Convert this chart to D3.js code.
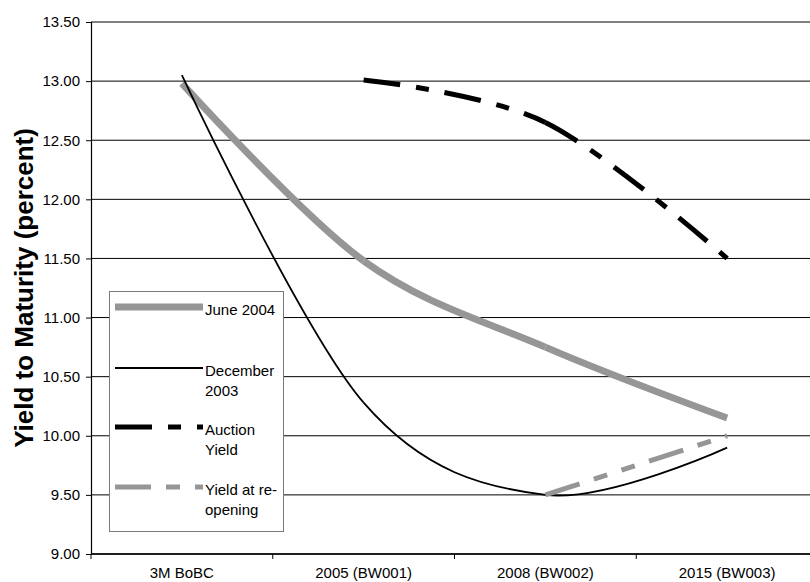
<!DOCTYPE html>
<html>
<head>
<meta charset="utf-8">
<script src="https://cdn.jsdelivr.net/npm/d3@7"></script>
<style>
  html, body { margin: 0; padding: 0; background: #fff; }
  svg { display: block; }
  text { font-family: "Liberation Sans", Arial, sans-serif; fill: #000; }
</style>
</head>
<body>
<svg id="chart" width="810" height="582"></svg>
<script>
// Bond categories along the horizontal axis
const categories = ["3M BoBC", "2005 (BW001)", "2008 (BW002)", "2015 (BW003)"];

// Yield curves (percent), one value per category; null where the series has no point
const june2004 = [12.98, 11.48, 10.75, 10.15];
const december2003 = [13.05, 10.28, 9.50, 9.90];
const auctionYield = [null, 13.01, 12.65, 11.50];
const reopeningYield = [null, null, 9.50, 10.00];

// Vertical axis ticks
const yTicks = [9.00, 9.50, 10.00, 10.50, 11.00, 11.50, 12.00, 12.50, 13.00, 13.50];

const series = [
  { name: ["June 2004"], values: june2004, color: "#969696", width: 7, dash: null },
  { name: ["December", "2003"], values: december2003, color: "#000000", width: 1.8, dash: null },
  { name: ["Auction", "Yield"], values: auctionYield, color: "#000000", width: 5, dash: "37,16,13,16" },
  { name: ["Yield at re-", "opening"], values: reopeningYield, color: "#969696", width: 5, dash: "36,15,14,15,14,15" }
];

const svg = d3.select("#chart");
const plot = { left: 91, right: 818, top: 22, bottom: 554 };

const x = d3.scaleBand().domain(categories).range([plot.left, plot.right]).paddingInner(0).paddingOuter(0);
const xc = c => x(c) + x.bandwidth() / 2;
const y = d3.scaleLinear().domain([9, 13.5]).range([plot.bottom, plot.top]);

// Horizontal gridlines
svg.append("g").selectAll("line").data(yTicks).join("line")
  .attr("x1", plot.left).attr("x2", plot.right)
  .attr("y1", d => y(d)).attr("y2", d => y(d))
  .attr("stroke", "#000").attr("stroke-width", 1);

// Y axis
const yAxis = d3.axisLeft(y).tickValues(yTicks).tickFormat(d3.format(".2f")).tickSize(5).tickPadding(6);
const gy = svg.append("g").attr("transform", `translate(${plot.left},0)`).call(yAxis);
gy.select(".domain").attr("stroke", "#000").attr("stroke-width", 1.2);
gy.selectAll(".tick line").attr("stroke", "#000");
gy.selectAll("text").style("font-size", "15px").attr("fill", "#000")
  .style("font-family", "'Liberation Sans', Arial, sans-serif");

// X axis: ticks at band boundaries, labels centred in each band
const boundaries = categories.map(c => x(c)).concat([x(categories[categories.length - 1]) + x.bandwidth()]);
const gx = svg.append("g");
gx.append("line")
  .attr("x1", plot.left).attr("x2", plot.right)
  .attr("y1", plot.bottom).attr("y2", plot.bottom)
  .attr("stroke", "#000").attr("stroke-width", 1.4);
gx.selectAll("line.tk").data(boundaries).join("line").attr("class", "tk")
  .attr("x1", d => d).attr("x2", d => d)
  .attr("y1", plot.bottom).attr("y2", plot.bottom + 5)
  .attr("stroke", "#000");
gx.selectAll("text").data(categories).join("text")
  .attr("x", d => xc(d)).attr("y", 578)
  .attr("text-anchor", "middle")
  .style("font-size", "15px")
  .text(d => d);

// Y axis title
svg.append("text")
  .attr("transform", `translate(33,${(plot.top + plot.bottom) / 2}) rotate(-90)`)
  .attr("text-anchor", "middle")
  .style("font-size", "26px").style("font-weight", "bold")
  .text("Yield to Maturity (percent)");

// Records each curve segment separately so a dash pattern restarts at every data point
function segmentRecorder() {
  const segs = [];
  let cx = 0, cy = 0;
  return {
    segs,
    beginPath() {},
    closePath() {},
    moveTo(px, py) { cx = px; cy = py; },
    lineTo(px, py) { segs.push(`M${cx},${cy}L${px},${py}`); cx = px; cy = py; },
    bezierCurveTo(a, b, c, d, px, py) {
      segs.push(`M${cx},${cy}C${a},${b},${c},${d},${px},${py}`); cx = px; cy = py;
    }
  };
}

const lines = svg.append("g").attr("fill", "none");
series.forEach(s => {
  const pts = categories.map((c, i) => ({ c, v: s.values[i] }));
  const rec = segmentRecorder();
  d3.line()
    .defined(d => d.v != null)
    .x(d => xc(d.c))
    .y(d => y(d.v))
    .curve(d3.curveCardinal.tension(0))
    .context(rec)(pts);
  lines.append("g").selectAll("path").data(rec.segs).join("path")
    .attr("d", d => d)
    .attr("stroke", s.color)
    .attr("stroke-width", s.width)
    .attr("stroke-dasharray", s.dash)
    .attr("stroke-linecap", "butt")
    .attr("stroke-linejoin", "round");
});

// Legend
const legend = svg.append("g");
legend.append("rect")
  .attr("x", 109.5).attr("y", 291.5).attr("width", 174).attr("height", 240)
  .attr("fill", "#fff").attr("stroke", "#7a7a7a").attr("stroke-width", 1);
const legendRows = [307, 368, 427, 487];
series.forEach((s, i) => {
  const ly = legendRows[i];
  legend.append("line")
    .attr("x1", 115).attr("x2", 203)
    .attr("y1", ly).attr("y2", ly)
    .attr("stroke", s.color).attr("stroke-width", s.width)
    .attr("stroke-dasharray", s.dash);
  const t = legend.append("text").attr("x", 205).attr("y", ly + 8).style("font-size", "15px");
  s.name.forEach((part, k) => {
    t.append("tspan").attr("x", 205).attr("dy", k === 0 ? 0 : 20).text(part);
  });
});
</script>
</body>
</html>
